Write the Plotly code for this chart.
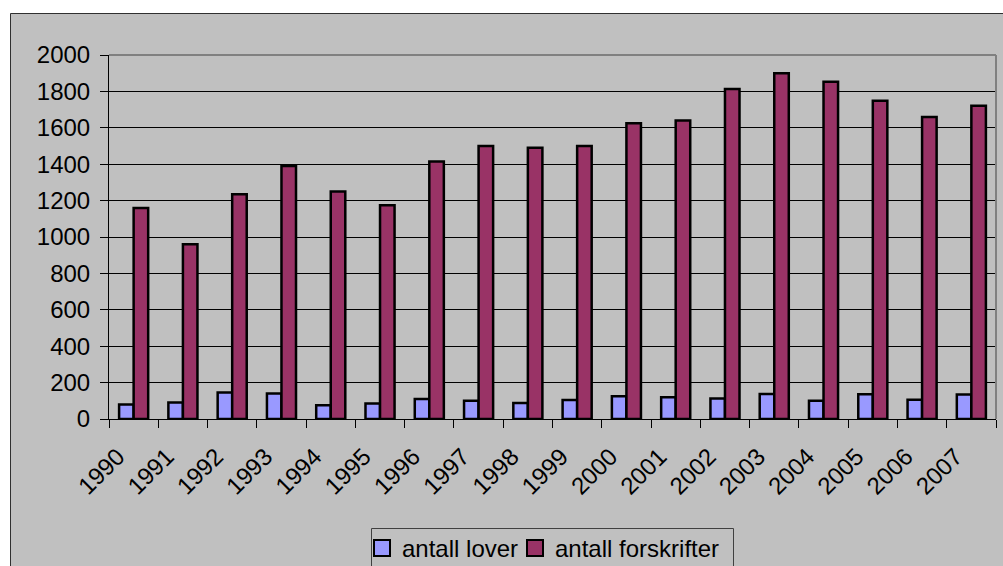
import plotly.graph_objects as go

# Annual counts of new laws and regulations
years = ["1990", "1991", "1992", "1993", "1994", "1995", "1996", "1997", "1998",
         "1999", "2000", "2001", "2002", "2003", "2004", "2005", "2006", "2007"]
lover = [80, 90, 145, 140, 75, 85, 110, 100, 88, 105, 125, 120, 112, 137, 100, 136, 106, 134]
forskrifter = [1160, 960, 1235, 1390, 1250, 1175, 1415, 1500, 1490, 1500, 1625, 1640,
               1813, 1900, 1853, 1748, 1659, 1721]
y_ticks = [0, 200, 400, 600, 800, 1000, 1200, 1400, 1600, 1800, 2000]
series_names = ["antall lover", "antall forskrifter"]
series_colors = ["#9999FF", "#993366"]

W, H = 1003, 566
ML, MR, MT, MB = 109, 7, 55, 147
PW, PH = W - ML - MR, H - MT - MB

FONT = "Arial, Liberation Sans, sans-serif"
GRAY = "#C0C0C0"


def px_x(p):
    return (p - ML) / PW


def px_y(p):
    return (H - MB - p) / PH


fig = go.Figure()
for name, vals, col in zip(series_names, [lover, forskrifter], series_colors):
    fig.add_trace(go.Bar(
        name=name, x=years, y=vals, showlegend=False,
        marker=dict(color=col, line=dict(color="black", width=2.5)),
    ))

# square legend keys, one small legend per series inside a shared frame
legend_ids = ["legend", "legend2"]
legend_left = [362, 515]
for name, col, lid in zip(series_names, series_colors, legend_ids):
    fig.add_trace(go.Scatter(
        name=name, x=[None], y=[None], mode="markers", legend=lid,
        marker=dict(symbol="square", size=16, color=col,
                    line=dict(color="black", width=2)),
    ))

legend_style = dict(
    orientation="h", xanchor="left", yanchor="top", y=px_y(526),
    bgcolor="rgba(0,0,0,0)", borderwidth=0, itemwidth=30,
    font=dict(family=FONT, size=24, color="black"),
)

shapes = [
    # chart area panel with its frame
    dict(type="rect", xref="paper", yref="paper", layer="below",
         x0=px_x(10.5), x1=px_x(W + 20), y0=px_y(H + 20), y1=px_y(13.5),
         fillcolor=GRAY, line=dict(color="#303030", width=1)),
    # plot area frame, top and right edges
    dict(type="line", xref="paper", yref="paper", layer="above",
         x0=0, x1=1, y0=1, y1=1, line=dict(color="#808080", width=2)),
    dict(type="line", xref="paper", yref="paper", layer="above",
         x0=1, x1=1, y0=0, y1=1, line=dict(color="#808080", width=2)),
    # legend frame
    dict(type="rect", xref="paper", yref="paper", layer="below",
         x0=px_x(371.5), x1=px_x(733.5), y0=px_y(H + 20), y1=px_y(528.5),
         fillcolor=GRAY, line=dict(color="#404040", width=1)),
]

fig.update_layout(
    width=W, height=H,
    margin=dict(l=ML, r=MR, t=MT, b=MB, autoexpand=False),
    paper_bgcolor="white",
    plot_bgcolor=GRAY,
    font=dict(family=FONT, size=24, color="black"),
    barmode="group",
    bargap=0.41,
    bargroupgap=0,
    shapes=shapes,
    showlegend=True,
    legend=dict(legend_style, x=px_x(legend_left[0])),
    legend2=dict(legend_style, x=px_x(legend_left[1])),
)

fig.update_xaxes(
    type="category",
    showgrid=False,
    showline=True, linecolor="black", linewidth=1,
    ticks="outside", tickson="boundaries", ticklen=8, tickcolor="black",
    tickangle=-45,
    ticklabelshift=-16,
    ticklabelstandoff=13,
    tickfont=dict(family=FONT, size=24, color="black"),
)
fig.update_yaxes(
    range=[0, 2000],
    tickvals=y_ticks,
    showgrid=True, gridcolor="black", gridwidth=1,
    zeroline=False,
    showline=True, linecolor="black", linewidth=1,
    ticks="outside", ticklen=8, tickcolor="black",
    ticklabelstandoff=5,
    tickfont=dict(family=FONT, size=24, color="black"),
)

fig.write_html("out.html")
